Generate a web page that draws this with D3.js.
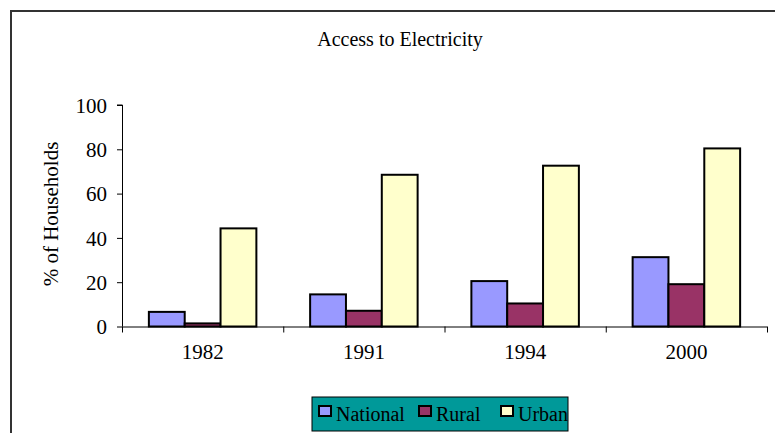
<!DOCTYPE html>
<html><head><meta charset="utf-8">
<script src="https://cdn.jsdelivr.net/npm/d3@7"></script>
<style>body{margin:0;background:#fff;} text{font-family:"Liberation Serif",serif;}</style>
</head><body><svg id="c" width="775" height="433"></svg>
<script>
const categories = ["1982","1991","1994","2000"];
const seriesNames = ["National","Rural","Urban"];
const national = [6.6, 14.5, 20.5, 31.3];
const rural = [1.4, 7.1, 10.4, 19.1];
const urban = [44.3, 68.5, 72.6, 80.4];
const yTicks = [0,20,40,60,80,100];
const colors = ["#9999FF","#993366","#FFFFCC"];
const title = "Access to Electricity";
const yLabel = "% of Households";
const FF = "Liberation Serif";

const svg = d3.select("#c");
svg.append("rect").attr("x",11).attr("y",11).attr("width",800).attr("height",460)
  .attr("fill","#fff").attr("stroke","#333").attr("stroke-width",2);

const L=122,R=767,T=105,B=326.5;
const x = d3.scaleBand().domain(categories).range([L,R]);
const y = d3.scaleLinear().domain([0,100]).range([B,T]);
const bw = x.bandwidth()/4.5;
const x1 = d3.scaleBand().domain(seriesNames).range([0.75*bw, 3.75*bw]);

svg.append("text").attr("x",400).attr("y",46).attr("text-anchor","middle")
  .attr("font-family",FF).attr("font-size",20).text(title);

const data = [national, rural, urban];
const g = svg.append("g");
categories.forEach((c,i)=>{
  seriesNames.forEach((s,j)=>{
    g.append("rect").attr("x",x(c)+x1(s)).attr("y",y(data[j][i]))
      .attr("width",x1.bandwidth()).attr("height",B-y(data[j][i]))
      .attr("fill",colors[j]).attr("stroke","#000").attr("stroke-width",2);
  });
});

const ya = svg.append("g").attr("transform",`translate(${L},0)`)
  .call(d3.axisLeft(y).tickValues(yTicks).tickSize(5).tickPadding(10).tickFormat(d3.format("d")));
ya.attr("font-family",FF);
ya.selectAll("text").attr("font-size",21).attr("font-family",FF).attr("fill","#000").attr("dy","0.35em");
ya.select(".domain").attr("d",`M-5,${T}H0.5V${B}`);
const xa = svg.append("g").attr("transform",`translate(0,${B})`)
  .call(d3.axisBottom(x).tickSize(0).tickPadding(18));
xa.attr("font-family",FF);
xa.selectAll("text").attr("font-size",21).attr("font-family",FF).attr("fill","#000");
xa.select(".domain").attr("d",`M${L},0.5H${R}`);
const bounds = categories.map(c=>x(c)).concat([R]);
xa.selectAll(".bt").data(bounds).enter().append("line").attr("class","bt")
  .attr("x1",d=>d+0.5).attr("x2",d=>d+0.5).attr("y1",0).attr("y2",6).attr("stroke","#000");

svg.append("text").attr("transform","translate(58,214) rotate(-90)")
  .attr("text-anchor","middle").attr("font-family",FF).attr("font-size",21).text(yLabel);

const lg = svg.append("g");
lg.append("rect").attr("x",312).attr("y",397).attr("width",256).attr("height",34)
  .attr("fill","#009999").attr("stroke","#000").attr("stroke-width",1);
const lx = [318, 418, 500];
seriesNames.forEach((s,j)=>{
  lg.append("rect").attr("x",lx[j]+1).attr("y",406).attr("width",12).attr("height",10)
    .attr("fill",colors[j]).attr("stroke","#000").attr("stroke-width",2);
  lg.append("text").attr("x",lx[j]+18).attr("y",421).attr("font-family",FF).attr("font-size",20).text(s);
});
</script></body></html>
